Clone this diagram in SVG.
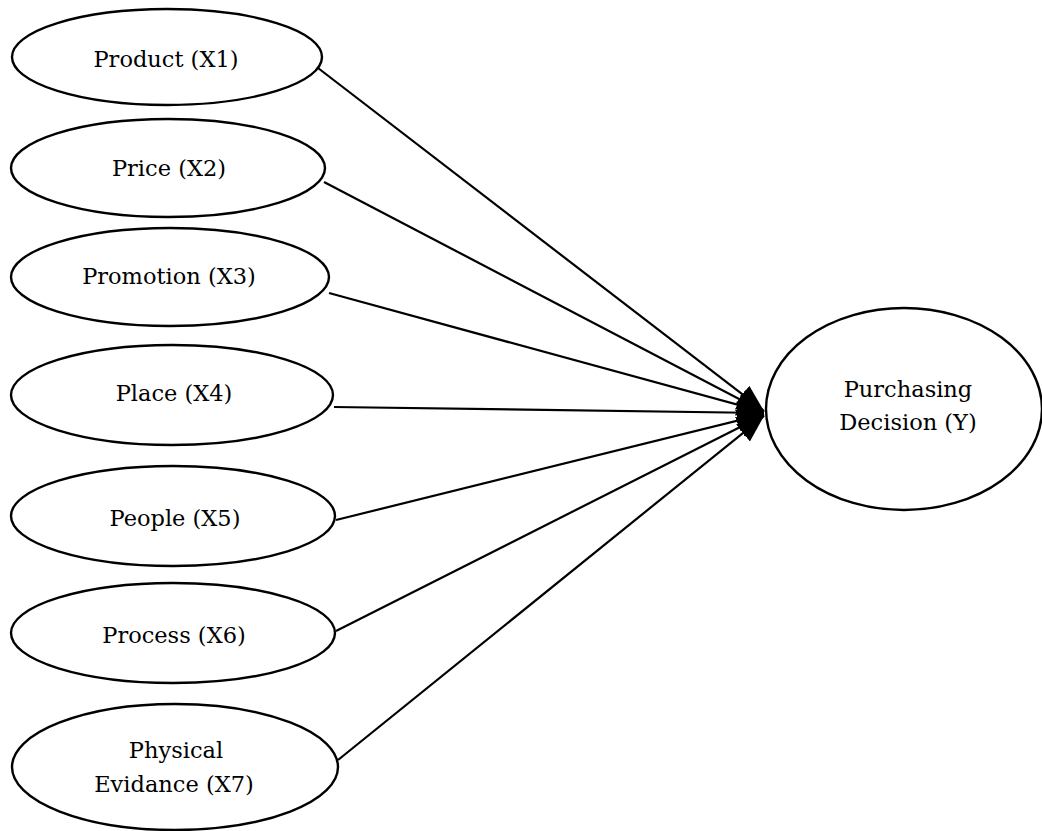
<svg xmlns="http://www.w3.org/2000/svg" width="1042" height="831" viewBox="0 0 1042 831">
<style>
.n ellipse{fill:#fff;stroke:#000;stroke-width:2.4}
.n text{font-family:"DejaVu Serif","Liberation Serif",serif;font-size:22.5px;fill:#000;text-anchor:middle}
.c line{stroke:#000;stroke-width:2.2}
</style>
<defs>
<marker id="ah" markerUnits="userSpaceOnUse" markerWidth="30" markerHeight="24" refX="27" refY="11" orient="auto" viewBox="0 0 30 22">
<path d="M0,0 L27,11 L0,22 Z" fill="#000"/>
</marker>
</defs>
<rect width="1042" height="831" fill="#fff"/>
<g class="c" id="connectors">
<line x1="318" y1="68" x2="764" y2="411" marker-end="url(#ah)"/>
<line x1="324" y1="182" x2="764" y2="412" marker-end="url(#ah)"/>
<line x1="329" y1="293" x2="764" y2="412" marker-end="url(#ah)"/>
<line x1="334" y1="407" x2="764" y2="413" marker-end="url(#ah)"/>
<line x1="336" y1="520" x2="764" y2="414" marker-end="url(#ah)"/>
<line x1="336" y1="631" x2="764" y2="415" marker-end="url(#ah)"/>
<line x1="338" y1="760" x2="764" y2="416" marker-end="url(#ah)"/>
</g>
<g class="n" id="n1"><ellipse cx="167" cy="57" rx="155" ry="48"/><text x="166" y="67">Product (X1)</text></g>
<g class="n" id="n2"><ellipse cx="168" cy="168" rx="157" ry="49"/><text x="169" y="176">Price (X2)</text></g>
<g class="n" id="n3"><ellipse cx="170" cy="277" rx="159" ry="49"/><text x="169" y="284">Promotion (X3)</text></g>
<g class="n" id="n4"><ellipse cx="172" cy="395" rx="161" ry="50"/><text x="174" y="401">Place (X4)</text></g>
<g class="n" id="n5"><ellipse cx="173" cy="516" rx="162" ry="50"/><text x="175" y="526">People (X5)</text></g>
<g class="n" id="n6"><ellipse cx="173" cy="633" rx="162" ry="50"/><text x="174" y="643">Process (X6)</text></g>
<g class="n" id="n7"><ellipse cx="175" cy="767" rx="163" ry="63"/><text x="176" y="758">Physical</text><text x="174" y="792">Evidance (X7)</text></g>
<g class="n" id="ny"><ellipse cx="904" cy="409" rx="138" ry="101"/><text x="908" y="397">Purchasing</text><text x="908" y="430">Decision (Y)</text></g>
</svg>
